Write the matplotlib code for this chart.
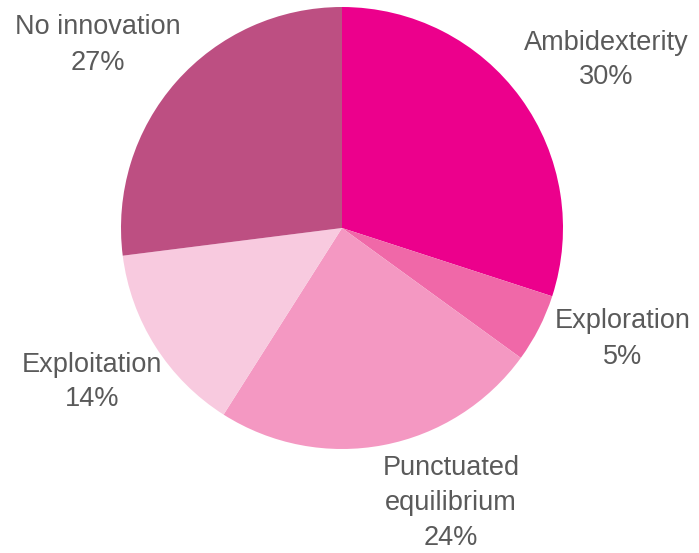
import matplotlib
matplotlib.use('Agg')
import matplotlib.pyplot as plt

# Share of firms by innovation mode (clockwise from 12 o'clock)
categories = ['Ambidexterity', 'Exploration', 'Punctuated\nequilibrium',
              'Exploitation', 'No innovation']
shares = [30, 5, 24, 14, 27]
colors = ['#EC008C', '#F068A8', '#F498C2', '#F8CADF', '#BD4F82']

# label block centres in pixels from the top-left corner
label_pos = [(606, 60), (623, 339), (451, 503), (92, 382), (98, 45)]

plt.rcParams['font.family'] = ['Liberation Sans', 'DejaVu Sans']

W, H = 699, 553
fig = plt.figure(figsize=(W / 100, H / 100), dpi=100)
ax = fig.add_axes([0, 0, 1, 1])

labels = [f'{c}\n{v}%' for c, v in zip(categories, shares)]

wedges, texts = ax.pie(
    shares,
    labels=labels,
    colors=colors,
    startangle=90,
    counterclock=False,
    center=(342, H - 228),
    radius=221,
    wedgeprops={'linewidth': 0},
    textprops={'fontsize': 19.5, 'color': '#5A5A5A', 'linespacing': 1.45},
    frame=True,
)

for t, (x, y) in zip(texts, label_pos):
    t.set_position((x, H - y))
    t.set_horizontalalignment('center')
    t.set_verticalalignment('center')
    t.set_multialignment('center')

ax.set_xlim(0, W)
ax.set_ylim(0, H)
ax.set_aspect('equal')
ax.axis('off')

fig.savefig('out.png', dpi=100)
